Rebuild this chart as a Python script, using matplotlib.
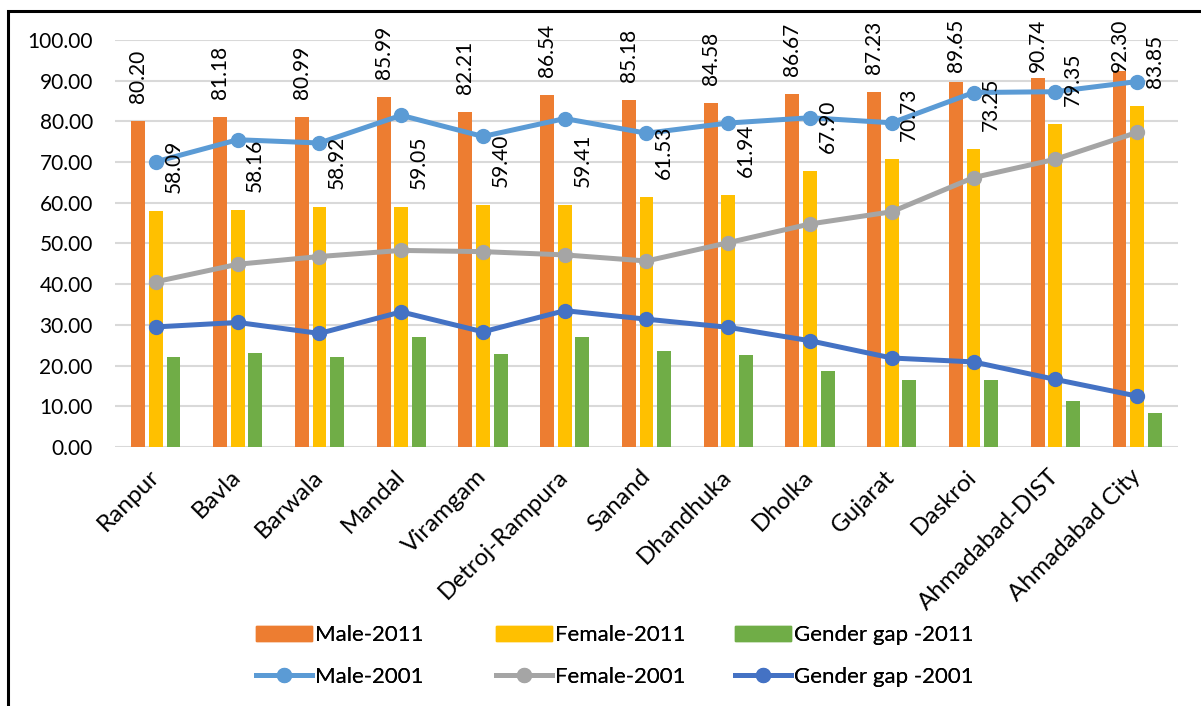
import matplotlib
matplotlib.use('Agg')
import matplotlib.pyplot as plt
from matplotlib.patches import Patch, Rectangle
from matplotlib.lines import Line2D
import numpy as np

plt.rcParams['font.family'] = ['Lato', 'DejaVu Sans']

# Literacy rates by taluka (2011 and 2001)
places = ['Ranpur', 'Bavla', 'Barwala', 'Mandal', 'Viramgam', 'Detroj-Rampura',
          'Sanand', 'Dhandhuka', 'Dholka', 'Gujarat', 'Daskroi',
          'Ahmadabad-DIST', 'Ahmadabad City']
male_2011 = [80.20, 81.18, 80.99, 85.99, 82.21, 86.54, 85.18, 84.58, 86.67,
             87.23, 89.65, 90.74, 92.30]
female_2011 = [58.09, 58.16, 58.92, 59.05, 59.40, 59.41, 61.53, 61.94, 67.90,
               70.73, 73.25, 79.35, 83.85]
gap_2011 = [22.11, 23.02, 22.07, 26.94, 22.81, 27.13, 23.65, 22.64, 18.77,
            16.50, 16.40, 11.39, 8.45]
male_2001 = [70.1, 75.5, 74.7, 81.5, 76.3, 80.7, 77.1, 79.6, 80.9, 79.66,
             87.1, 87.3, 89.8]
female_2001 = [40.6, 44.9, 46.8, 48.3, 48.0, 47.2, 45.7, 50.2, 54.8, 57.80,
               66.2, 70.7, 77.3]
gap_2001 = [29.5, 30.6, 27.9, 33.2, 28.3, 33.5, 31.4, 29.4, 26.1, 21.86,
            20.9, 16.6, 12.5]
y_ticks = np.arange(0, 101, 10)

c_male11, c_fem11, c_gap11 = '#ED7D31', '#FFC000', '#70AD47'
c_male01, c_fem01, c_gap01 = '#5B9BD5', '#A5A5A5', '#4472C4'

fig = plt.figure(figsize=(12.01, 7.06), dpi=100)
ax = fig.add_axes([0.0958, 0.3669, 0.885, 0.5764])

x = np.arange(len(places))
w = 0.17
off = 0.215
ax.bar(x - off, male_2011, w, color=c_male11, zorder=2)
ax.bar(x, female_2011, w, color=c_fem11, zorder=2)
ax.bar(x + off, gap_2011, w, color=c_gap11, zorder=2)

line_kw = dict(lw=3.6, marker='o', markersize=10, zorder=3)
ax.plot(x, male_2001, color=c_male01, **line_kw)
ax.plot(x, female_2001, color=c_fem01, **line_kw)
ax.plot(x, gap_2001, color=c_gap01, **line_kw)

# value labels, kept below the top of the chart area
label_cap = 87.6
for i in x:
    ax.annotate(f'{male_2011[i]:.2f}', (i - off, min(male_2011[i], label_cap)),
                xytext=(0, 13), textcoords='offset points', rotation=90,
                ha='center', va='bottom', fontsize=15, zorder=4)
    ax.annotate(f'{female_2011[i]:.2f}', (i + off, min(female_2011[i], label_cap)),
                xytext=(0, 13), textcoords='offset points', rotation=90,
                ha='center', va='bottom', fontsize=15, zorder=4)

ax.set_xlim(-0.5, len(places) - 0.5)
ax.set_ylim(0, 100)
ax.set_yticks(y_ticks)
ax.set_yticklabels([f'{v:.2f}' for v in y_ticks], fontsize=15)
ax.set_xticks(x)
ax.set_xticklabels(places, rotation=45, ha='right', va='center',
                   rotation_mode='anchor', fontsize=17.5)
ax.tick_params(axis='y', length=0, pad=16)
ax.tick_params(axis='x', length=0, pad=19)
ax.grid(axis='y', color='#D9D9D9', lw=1.5, zorder=0)
for s in ax.spines.values():
    s.set_visible(False)

# legend: one block per column so the columns sit at fixed positions
def line_handle(c):
    return Line2D([], [], color=c, lw=3.6, marker='o', markersize=10)

columns = [
    ([Patch(color=c_male11), line_handle(c_male01)], ['Male-2011', 'Male-2001'], 256),
    ([Patch(color=c_fem11), line_handle(c_fem01)], ['Female-2011', 'Female-2001'], 496),
    ([Patch(color=c_gap11), line_handle(c_gap01)], ['Gender gap -2011', 'Gender gap -2001'], 735),
]
for hs, ls, px in columns:
    leg = fig.legend(hs, ls, loc='center left', bbox_to_anchor=(px / 1201, 1 - 656 / 706),
                     frameon=False, fontsize=16, handlelength=2.5, handleheight=0.7,
                     handletextpad=0.15, labelspacing=0.95, borderpad=0,
                     borderaxespad=0)
    fig.add_artist(leg)

# outer chart border
fig.patches.append(Rectangle((8 / 1201, -0.1), 1.2, 1.1 - 11 / 706,
                             transform=fig.transFigure, fill=False,
                             edgecolor='black', lw=2.2))

fig.savefig('out.png', dpi=100)
